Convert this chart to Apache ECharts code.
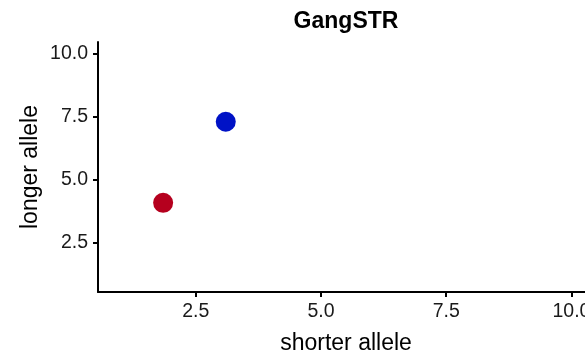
<!DOCTYPE html>
<html>
<head>
<meta charset="utf-8">
<script src="https://cdn.jsdelivr.net/npm/echarts@6/dist/echarts.min.js"></script>
<style>
  html, body { margin: 0; padding: 0; background: #fff; overflow: hidden; }
  /* the panel runs past the right edge of the page, so the canvas is wider than the view */
  #chart { width: 610px; height: 360px; }
</style>
</head>
<body>
<div id="chart"></div>
<script>
// Allele length calls (shorter vs longer allele)
const shorterAllele = [1.85, 3.10];
const longerAllele = [4.08, 7.29];
const pointColors = ['#B5001E', '#0012C6'];
const tickValues = [2.5, 5, 7.5, 10];

const font = '"Liberation Sans", Arial, Helvetica, sans-serif';

const chart = echarts.init(document.getElementById('chart'));

const axisCommon = {
  min: 0.55,
  max: 10.45,
  splitLine: { show: false },
  axisLine: { show: true, onZero: false, lineStyle: { color: '#000', width: 2 } },
  axisTick: { show: true, length: 5, customValues: tickValues, lineStyle: { color: '#000', width: 2 } },
  axisLabel: {
    customValues: tickValues,
    color: '#1a1a1a',
    fontFamily: font,
    fontSize: 19.5,
    margin: 10,
    formatter: v => v.toFixed(1)
  },
  nameLocation: 'middle',
  nameMoveOverlap: false,
  nameTextStyle: { color: '#000', fontFamily: font, fontSize: 23 }
};

chart.setOption({
  animation: false,
  title: {
    text: 'GangSTR',
    left: 346,
    textAlign: 'center',
    top: 10,
    padding: 0,
    textStyle: { fontFamily: font, fontWeight: 'bold', fontSize: 23, color: '#000' }
  },
  grid: { left: 98, width: 496, top: 42, height: 250 },
  xAxis: Object.assign({}, axisCommon, {
    type: 'value',
    name: 'shorter allele',
    nameGap: 40
  }),
  yAxis: Object.assign({}, axisCommon, {
    type: 'value',
    name: 'longer allele',
    nameGap: 56
  }),
  series: [{
    type: 'scatter',
    symbolSize: 20,
    data: shorterAllele.map((x, i) => ({
      value: [x, longerAllele[i]],
      itemStyle: { color: pointColors[i], opacity: 1 }
    }))
  }]
});
</script>
</body>
</html>
